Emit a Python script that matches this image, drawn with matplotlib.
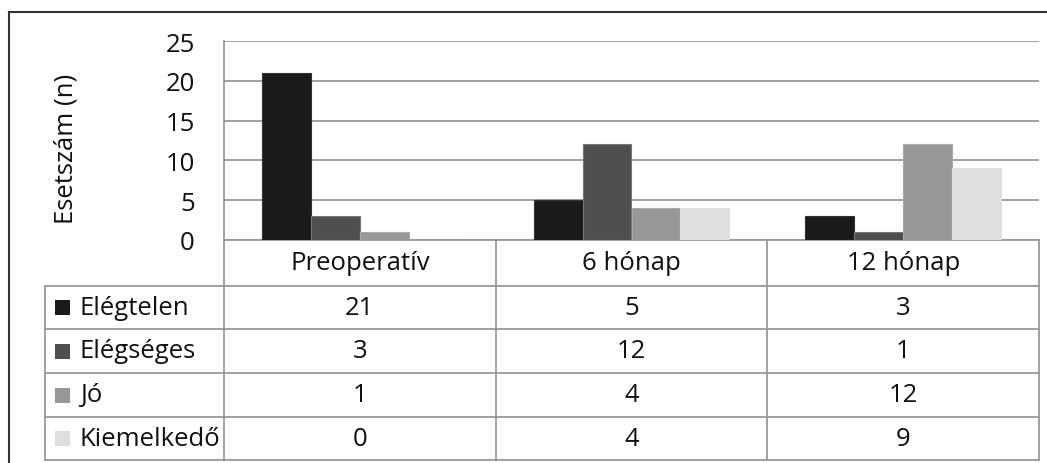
import matplotlib
matplotlib.use("Agg")
import matplotlib.pyplot as plt
from matplotlib.lines import Line2D
from matplotlib.patches import Rectangle
from matplotlib.transforms import blended_transform_factory

plt.rcParams["font.family"] = ["Open Sans", "DejaVu Sans"]

categories = ["Preoperatív", "6 hónap", "12 hónap"]
series = ["Elégtelen", "Elégséges", "Jó", "Kiemelkedő"]
elegtelen = [21, 5, 3]
elegseges = [3, 12, 1]
jo = [1, 4, 12]
kiemelkedo = [0, 4, 9]
values = [elegtelen, elegseges, jo, kiemelkedo]
colors = ["#1a1a1a", "#4f4f4f", "#979797", "#dedede"]
edges = ["#333333", "#777777", "#a8a8a8", "#dedede"]

W, H = 1047, 464
FS = 18.5
GRID = "#9a9a9a"
TXT = "#111111"

fig = plt.figure(figsize=(W / 100, H / 100), dpi=100)
# plot area in pixels: x 224..1039, y 42..241
ax = fig.add_axes([224 / W, (H - 241) / H, (1039 - 224) / W, (241 - 42) / H])

bw = 0.18
for j, (name, vals) in enumerate(zip(series, values)):
    xs = [i + (j - 1.5) * bw for i in range(len(categories))]
    ax.bar(xs, vals, width=bw, color=colors[j], edgecolor=edges[j],
           linewidth=0.8, zorder=3)

ax.set_xlim(-0.5, len(categories) - 0.5)
ax.set_ylim(0, 25)
ax.set_yticks(range(0, 26, 5))
ax.set_xticks([])
ax.yaxis.grid(True, color=GRID, linewidth=1.3)
ax.set_axisbelow(True)
for s in ["top", "right"]:
    ax.spines[s].set_visible(False)
for s in ["left", "bottom"]:
    ax.spines[s].set_color(GRID)
    ax.spines[s].set_linewidth(1.3)
ax.tick_params(axis="y", length=0, pad=21, labelsize=FS, colors=TXT)
ax.set_ylabel("Esetszám (n)", fontsize=FS, color=TXT)
ax.yaxis.set_label_coords(-0.178, 0.462)

# data table under the plot: rows in pixel heights, converted to axes fraction
plot_w = 1039 - 224
plot_h = 241 - 42
row_edges_px = [241, 287, 330, 374, 418, 461]
row_y = [(241 - p) / plot_h for p in row_edges_px]
label_x = (45 - 224) / plot_w

tr = blended_transform_factory(ax.transData, ax.transAxes)
tra = ax.transAxes
kw = dict(color=GRID, linewidth=1.3, clip_on=False)

# horizontal lines
for y in row_y[1:]:
    ax.add_line(Line2D([label_x, 1], [y, y], transform=tra, **kw))
# vertical lines
ax.add_line(Line2D([label_x, label_x], [row_y[1], row_y[-1]], transform=tra, **kw))
for b in range(len(categories) + 1):
    ax.add_line(Line2D([b - 0.5, b - 0.5], [row_y[0], row_y[-1]], transform=tr, **kw))

# header row
hy = (row_y[0] + row_y[1]) / 2
for i, c in enumerate(categories):
    ax.text(i, hy, c, transform=tr, ha="center", va="center", fontsize=FS,
            color=TXT)

# series rows with swatches
sw = 15 / plot_w
sh = 15 / plot_h
for j, (name, vals) in enumerate(zip(series, values)):
    cy = (row_y[j + 1] + row_y[j + 2]) / 2
    ax.add_patch(Rectangle((label_x + 10 / plot_w, cy - sh / 2), sw, sh,
                           transform=tra, facecolor=colors[j], edgecolor="none",
                           clip_on=False))
    ax.text(label_x + 35 / plot_w, cy, name, transform=tra, ha="left", va="center",
            fontsize=FS, color=TXT)
    for i, v in enumerate(vals):
        ax.text(i, cy, str(v), transform=tr, ha="center", va="center",
                fontsize=FS, color=TXT)

# outer frame (left and top edges)
fig.add_artist(Line2D([9 / W, 9 / W], [0, 1 - 13 / H], color="#333333", linewidth=1.5))
fig.add_artist(Line2D([9 / W, 1], [1 - 13 / H, 1 - 13 / H], color="#333333", linewidth=1.5))

fig.savefig("out.png", dpi=100)
